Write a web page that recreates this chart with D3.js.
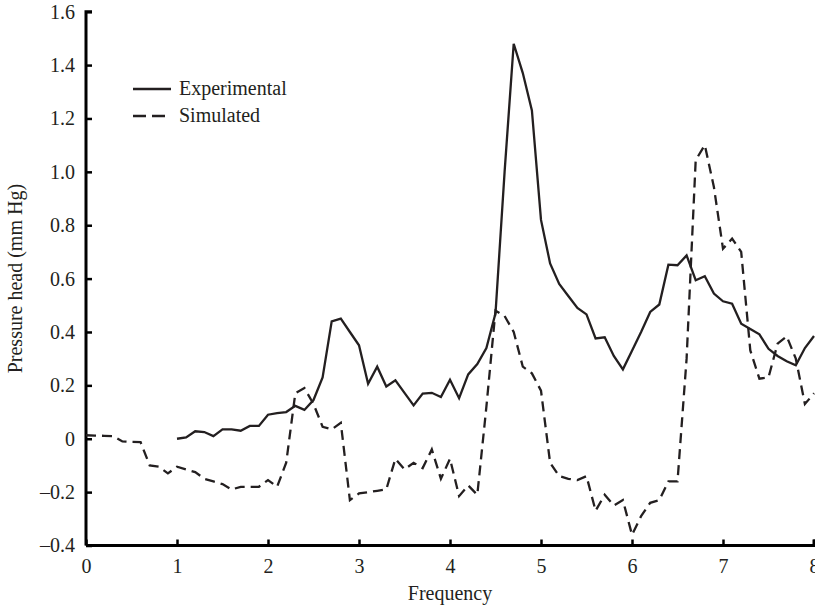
<!DOCTYPE html>
<html>
<head>
<meta charset="utf-8">
<script src="https://cdn.jsdelivr.net/npm/d3@7/dist/d3.min.js"></script>
<style>
    body { margin: 0; background: #fff; }
    text { font-family: "Liberation Serif", "Times New Roman", serif; fill: #231f20; }
    .line { fill: none; stroke: #231f20; stroke-width: 2.3px; stroke-linejoin: miter; }
</style>
</head>
<body>
<div id="chart"></div>
<script>
// frequencies for each series (step 0.1)
var expFreq = d3.range(10, 81).map(function (d) { return d / 10; });
var simFreq = d3.range(0, 81).map(function (d) { return d / 10; });

var experimental = [
    0.0, 0.005, 0.028, 0.025, 0.01, 0.035, 0.035, 0.03, 0.048, 0.048,
    0.09, 0.096, 0.1, 0.123, 0.108, 0.145, 0.23, 0.44, 0.45, 0.40,
    0.35, 0.206, 0.27, 0.196, 0.219, 0.172, 0.125, 0.169, 0.172, 0.156,
    0.221, 0.152, 0.241, 0.28, 0.34, 0.47, 1.0, 1.48, 1.37, 1.23,
    0.82, 0.657, 0.58, 0.535, 0.49, 0.466, 0.376, 0.38, 0.31, 0.26,
    0.33, 0.40, 0.475, 0.503, 0.652, 0.65, 0.687, 0.594, 0.609, 0.544,
    0.515, 0.506, 0.431, 0.411, 0.391, 0.337, 0.31, 0.29, 0.275, 0.34,
    0.385
];

var simulated = [
    0.013, 0.012, 0.011, 0.01, -0.01, -0.012, -0.013, -0.10, -0.105, -0.13,
    -0.105, -0.115, -0.125, -0.15, -0.16, -0.17, -0.19, -0.18, -0.18, -0.18,
    -0.155, -0.18, -0.09, 0.17, 0.19, 0.13, 0.045, 0.035, 0.06, -0.23,
    -0.205, -0.2, -0.195, -0.19, -0.075, -0.115, -0.09, -0.11, -0.04, -0.15,
    -0.075, -0.215, -0.175, -0.21, 0.12, 0.48, 0.46, 0.40, 0.27, 0.245,
    0.18, -0.09, -0.14, -0.15, -0.155, -0.14, -0.27, -0.21, -0.25, -0.23,
    -0.36, -0.29, -0.24, -0.23, -0.16, -0.16, 0.3, 1.044, 1.10, 0.943,
    0.712, 0.75, 0.70, 0.331, 0.225, 0.23, 0.356, 0.384, 0.3, 0.13,
    0.17
];

var xTicks = [0, 1, 2, 3, 4, 5, 6, 7, 8];
var yTicks = [-0.4, -0.2, 0, 0.2, 0.4, 0.6, 0.8, 1.0, 1.2, 1.4, 1.6];
var seriesNames = ['Experimental', 'Simulated'];

function build_chart() {
    var width = 815,
        height = 606,
        margin = { top: 11.7, right: 1, bottom: 60.5, left: 86 },
        fontSize = '20px';

    var svg = d3.select('#chart').append('svg')
        .attr('width', width)
        .attr('height', height);

    var x = d3.scaleLinear()
        .domain([0, 8])
        .range([margin.left, width - margin.right]);
    var y = d3.scaleLinear()
        .domain([-0.4, 1.6])
        .range([height - margin.bottom, margin.top]);

    var fmt = function (d) {
        if (d === 0) return '0';
        return (d < 0 ? '\u2013' : '') + Math.abs(d).toFixed(1);
    };

    // axes, ticks pointing into the plot
    var xAxis = svg.append('g')
        .attr('transform', 'translate(0,' + y(-0.4) + ')')
        .call(d3.axisBottom(x).tickValues(xTicks).tickSize(-6).tickPadding(13).tickFormat(d3.format('d')));
    var yAxis = svg.append('g')
        .attr('transform', 'translate(' + x(0) + ',0)')
        .call(d3.axisLeft(y).tickValues(yTicks).tickSize(-6).tickPadding(11).tickFormat(fmt));

    [xAxis, yAxis].forEach(function (a) {
        a.select('.domain').attr('stroke', '#000').attr('stroke-width', 3);
        a.selectAll('.tick line').attr('stroke', '#000').attr('stroke-width', 2.5);
        a.selectAll('.tick text').style('font-size', fontSize).attr('fill', '#231f20');
    });
    // plain axis lines without the outer ticks
    yAxis.select('.domain').attr('d', 'M0,' + y(-0.4) + 'V' + y(1.6) + 'h6');
    xAxis.select('.domain').attr('d', 'M' + x(0) + ',0H' + x(8) + 'v-6');

    var line = d3.line()
        .x(function (d) { return x(d[0]); })
        .y(function (d) { return y(d[1]); });

    svg.append('path')
        .datum(d3.zip(simFreq, simulated))
        .attr('class', 'line')
        .style('stroke-dasharray', '10,6')
        .attr('d', line);

    svg.append('path')
        .datum(d3.zip(expFreq, experimental))
        .attr('class', 'line')
        .attr('d', line);

    // legend
    var legend = svg.append('g').attr('transform', 'translate(133,89)');
    seriesNames.forEach(function (name, i) {
        var row = legend.append('g').attr('transform', 'translate(0,' + (i * 27) + ')');
        row.append('line')
            .attr('class', 'line')
            .attr('x1', 0).attr('x2', 38)
            .attr('y1', 0).attr('y2', 0)
            .style('stroke-dasharray', i === 1 ? '13,6' : null);
        row.append('text')
            .attr('x', 46).attr('y', 6)
            .style('font-size', fontSize)
            .text(name);
    });

    // axis titles
    svg.append('text')
        .attr('x', x(4)).attr('y', 600)
        .attr('text-anchor', 'middle')
        .style('font-size', fontSize)
        .text('Frequency');
    svg.append('text')
        .attr('transform', 'translate(22,' + y(0.6) + ') rotate(-90)')
        .attr('text-anchor', 'middle')
        .style('font-size', fontSize)
        .text('Pressure head (mm Hg)');
}

build_chart();
</script>
</body>
</html>
